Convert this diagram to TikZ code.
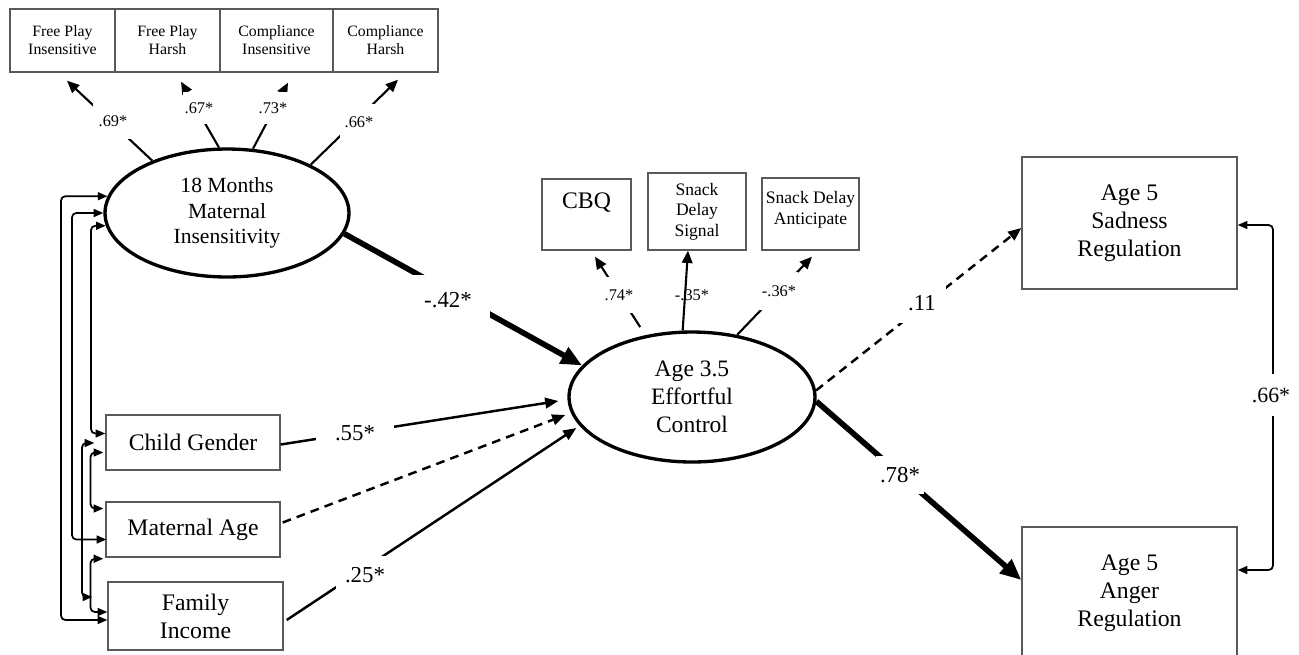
\documentclass[tikz,border=0pt]{standalone}
\usepackage{fontspec}
\setmainfont{Liberation Serif}
\usetikzlibrary{arrows.meta,calc,shapes.geometric}
\begin{document}
\begin{tikzpicture}[x=0.02cm,y=-0.02cm,
  box/.style={draw=black!65, line width=0.8pt, inner sep=0pt, align=center, text=black},
  lat/.style={draw, ellipse, line width=1.9pt, inner sep=0pt, align=center},
  arr/.style={line width=1.4pt, -{Triangle[length=7.5pt,width=6pt]}},
  ind/.style={line width=1.2pt, -{Triangle[length=7pt,width=6pt]}},
  thickarr/.style={line width=3.2pt, -{Triangle[length=12pt,width=10pt]}},
  dasharr/.style={arr, dash pattern=on 5pt off 3.5pt},
  cov/.style={line width=1pt, rounded corners=2.5pt, {Triangle[length=5.5pt,width=4.5pt]}-{Triangle[length=5.5pt,width=4.5pt]}},
  lab/.style={fill=white, inner sep=0pt, font=\fontsize{13}{15}\selectfont},
  slab/.style={fill=white, inner sep=0pt, font=\fontsize{9.3}{11}\selectfont},
  topf/.style={font=\fontsize{9}{10.3}\selectfont},
  snackf/.style={font=\fontsize{10}{11.6}\selectfont},
  bigf/.style={font=\fontsize{13.5}{15.8}\selectfont},
  latf/.style={font=\fontsize{12.3}{14.5}\selectfont},
  ecf/.style={font=\fontsize{13.4}{15.9}\selectfont}
]
\fill[white] (0,0) rectangle (1299,654);
\useasboundingbox (0,0) rectangle (1299,654);

% top indicator boxes
\node[box, topf, minimum width=2.1cm, minimum height=1.26cm] (fpi) at (62.5,40.5) {Free Play\\Insensitive};
\node[box, topf, minimum width=2.1cm, minimum height=1.26cm] (fph) at (167.5,40.5) {Free Play\\Harsh};
\node[box, topf, minimum width=2.26cm, minimum height=1.26cm] (ci) at (276.5,40.5) {Compliance\\Insensitive};
\node[box, topf, minimum width=2.1cm, minimum height=1.26cm] (ch) at (385.5,40.5) {Compliance\\Harsh};

% latent variables
\node[lat, latf, minimum width=4.88cm, minimum height=2.56cm] (mi) at (227,213) {18 Months\\Maternal\\Insensitivity};
\node[lat, ecf, minimum width=4.92cm, minimum height=2.6cm] (ec) at (692,397) {Age 3.5\\Effortful\\Control};

% effortful control indicators
\node[box, bigf, minimum width=1.78cm, minimum height=1.42cm] (cbq) at (586.5,214.5) {CBQ\\[-5pt]\strut};
\node[box, snackf, minimum width=1.96cm, minimum height=1.54cm] (sig) at (697,211.5) {Snack\\Delay\\Signal};
\node[box, snackf, minimum width=1.94cm, minimum height=1.44cm] (ant) at (810.5,214) {Snack Delay\\Anticipate\\[-8pt]\strut};

% covariates
\node[box, bigf, minimum width=3.48cm, minimum height=1.1cm] (cg) at (193,442.5) {Child Gender};
\node[box, bigf, minimum width=3.48cm, minimum height=1.1cm] (ma) at (193,529.5) {Maternal Age};
\node[box, bigf, minimum width=3.5cm, minimum height=1.36cm] (fi) at (195.5,616) {Family\\Income};

% outcomes
\node[box, bigf, minimum width=4.3cm, minimum height=2.64cm] (sad) at (1129.5,223) {Age 5\\Sadness\\Regulation};
\node[box, bigf, minimum width=4.3cm, minimum height=2.64cm] (ang) at (1129.5,593) {Age 5\\Anger\\Regulation};

% loadings of maternal insensitivity
\draw[ind] (mi.145) -- ($(fpi.south)+(4.5,8)$);
\draw[ind] (mi.97) -- ($(fph.south)+(13.5,9)$);
\draw[ind] (mi.68) -- ($(ci.south)+(11.5,10)$);
\draw[ind] (mi.30) -- ($(ch.south)+(12.5,7)$);
\node[slab, inner xsep=3pt, inner ysep=7pt] (l69) at (113,121) {.69*};
\node[slab, inner xsep=1pt, inner ysep=6pt] (l67) at (199,108) {.67*};
\node[slab, inner xsep=1pt, inner ysep=6pt] (l73) at (273,108) {.73*};
\node[slab, inner xsep=2.5pt, inner ysep=7pt] (l66a) at (359,122) {.66*};

% loadings of effortful control
\draw[ind, shorten <=5.5pt] (ec.127) -- ($(cbq.south)+(8.5,6)$);
\draw[ind] (ec.98) -- ($(sig.south)+(-9,0)$);
\draw[ind] (ec.54) -- ($(ant.south)+(1.5,6)$);
\node[slab, inner xsep=0.5pt, inner ysep=7pt] (l74) at (619,295) {.74*};
\node[slab, fill=none] (l35) at (692,295) {-.35*};
\node[slab, inner xsep=1pt, inner ysep=7.6pt] (l36) at (779,291) {-.36*};

% structural paths
\draw[thickarr] (mi.350) -- (ec.164);
\node[lab, inner xsep=10.3pt, inner ysep=9.8pt] (l42) at (448,300) {-.42*};
\draw[arr] ($(cg.east)+(0,2)$) -- ($(ec.west)+(-9,4)$);
\node[lab, inner xsep=10.7pt, inner ysep=3pt] (l55) at (355,433) {.55*};
\draw[dasharr] ($(ma.east)+(2,-7)$) -- ($(ec.west)+(-2,18)$);
\draw[arr] ($(fi.east)+(3,4)$) -- ($(ec.west)+(9,31)$);
\node[lab, inner xsep=5pt, inner ysep=6.4pt] (l25) at (365,575) {.25*};
\draw[dasharr] (ec.3) -- ($(sad.west)+(0,5)$);
\node[lab, inner xsep=6pt, inner ysep=7pt] (l11) at (922,303) {.11};
\draw[thickarr] (ec.358) -- ($(ang.west)+(0,-13)$);
\node[lab, inner xsep=2.2pt, inner ysep=6.4pt] (l78) at (900,475) {.78*};

% covariances
\draw[cov] (mi.172) -| (61,400) |- ($(fi.west)+(0,4)$);
\draw[cov] (mi.west) -| (72,400) |- ($(ma.west)+(1,10)$);
\draw[cov] (mi.186) -| (91,300) |- ($(cg.west)+(0,-9)$);
\draw[cov] ($(cg.west)+(-11,0.5)$) -| (82,500) |- ($(fi.west)+(-15,-19)$);
\draw[cov] ($(cg.west)+(-2,10)$) -| (90.5,480) |- ($(ma.west)+(-2,-21)$);
\draw[cov] ($(ma.south west)+(-2,1)$) -| (90.5,585) |- ($(fi.west)+(0,-4)$);
\draw[cov] ($(sad.east)+(0,2)$) -| (1273,400) |- ($(ang.east)+(0,-23)$);
\node[lab, font=\fontsize{12.4}{14}\selectfont, inner xsep=1pt, inner ysep=7.7pt] (l66b) at (1271,395) {.66*};
\end{tikzpicture}
\end{document}
